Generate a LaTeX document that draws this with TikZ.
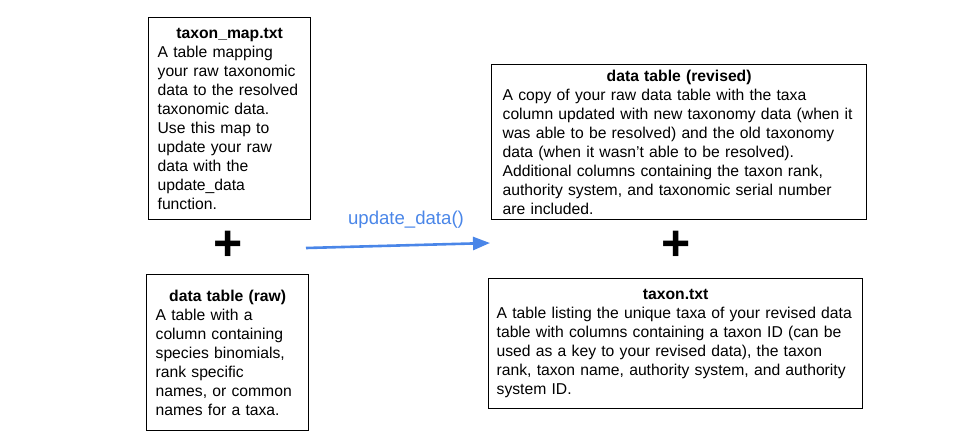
\documentclass[tikz,border=0pt]{standalone}
\usepackage{fontspec}
\setmainfont{Liberation Sans}
\usepackage{tikz}
\usetikzlibrary{arrows.meta}
\definecolor{updblue}{RGB}{74,134,232}
\tikzstyle{tblbox} = [draw, line width=1.3pt, anchor=north west, inner xsep=9pt, inner ysep=0pt, align=left, font=\fontsize{15.7}{19}\selectfont]
\tikzstyle{plussign} = [font=\fontsize{50}{50}\selectfont\bfseries, inner sep=0pt]
\tikzstyle{es} = [-{Triangle[length=17pt,width=13pt]}, line width=2.6pt, draw=updblue]
\newcommand{\boxhead}[1]{{\centering\bfseries #1\par}}

\begin{document}
\begin{tikzpicture}[yscale=-1]
			\useasboundingbox (0pt,0pt) rectangle (960pt,445pt);
			\node[tblbox, minimum width=162pt, minimum height=202pt, text width=144pt] (map) at (148pt,17pt) {\boxhead{taxon\_map.txt}A table mapping\\your raw taxonomic\\data to the resolved\\taxonomic data.\\Use this map to\\update your raw\\data with the\\update\_data\\function.};
			\node[tblbox, minimum width=162pt, minimum height=156pt, text width=144pt] (raw) at (146pt,274pt) {\boxhead{data table (raw)}A table with a\\column containing\\species binomials,\\rank specific\\names, or common\\names for a taxa.};
			\node[tblbox, minimum width=375pt, minimum height=155pt, text width=353pt, inner xsep=11pt] (revised) at (491pt,64pt) {\boxhead{data table (revised)}A copy of your raw data table with the taxa\\column updated with new taxonomy data (when it\\was able to be resolved) and the old taxonomy\\data (when it wasn’t able to be resolved).\\Additional columns containing the taxon rank,\\authority system, and taxonomic serial number\\are included.};
			\node[tblbox, minimum width=374pt, minimum height=130pt, text width=358pt, inner xsep=8pt] (taxon) at (488pt,278pt) {\boxhead{taxon.txt}A table listing the unique taxa of your revised data\\table with columns containing a taxon ID (can be\\used as a key to your revised data), the taxon\\rank, taxon name, authority system, and authority\\system ID.};
			\node[plussign] (plusleft) at (228pt,246pt) {+};
			\node[plussign] (plusright) at (676pt,246pt) {+};
			\coordinate (updfrom) at (306pt,248pt);
			\coordinate (updto) at (490pt,243pt);
			\draw[es] (updfrom) -- (updto);
			\node[text=updblue, font=\fontsize{18.6}{22}\selectfont] (updlabel) at (406pt,220pt) {update\_data()};
		\end{tikzpicture}
\end{document}
